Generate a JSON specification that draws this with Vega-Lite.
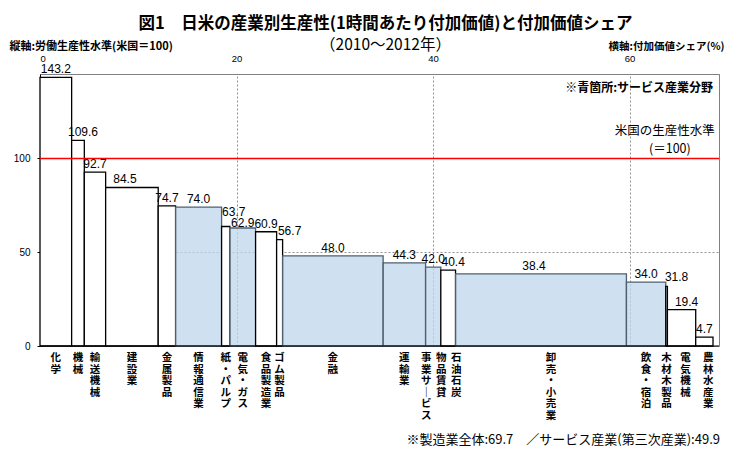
{
  "$schema": "https://vega.github.io/schema/vega-lite/v6.json",
  "width": 679,
  "height": 272,
  "autosize": {"type": "none"},
  "padding": {"left": 40, "top": 74, "right": 19, "bottom": 115},
  "background": "white",
  "config": {
    "view": {"stroke": "#808080", "strokeWidth": 1},
    "font": "Noto Sans CJK JP",
    "text": {"color": "black"}
  },
  "title": {
    "text": "図1　日米の産業別生産性(1時間あたり付加価値)と付加価値シェア",
    "subtitle": "（2010～2012年）",
    "anchor": "middle",
    "font": "Noto Sans CJK JP",
    "fontSize": 16.5,
    "fontWeight": "bold",
    "color": "black",
    "subtitleFont": "Noto Sans CJK JP",
    "subtitleFontSize": 15.5,
    "subtitleColor": "black",
    "subtitlePadding": 5,
    "offset": -13,
    "dx": 6
  },
  "data": {
    "values": [
      {"name": "化学", "share": 3.22, "prod": 143.2, "type": "その他"},
      {"name": "機械", "share": 1.29, "prod": 109.6, "type": "その他"},
      {"name": "輸送機械", "share": 2.17, "prod": 92.7, "type": "その他"},
      {"name": "建設業", "share": 5.35, "prod": 84.5, "type": "その他"},
      {"name": "金属製品", "share": 1.77, "prod": 74.7, "type": "その他"},
      {"name": "情報通信業", "share": 4.68, "prod": 74.0, "type": "サービス"},
      {"name": "紙・パルプ", "share": 0.85, "prod": 63.7, "type": "その他"},
      {"name": "電気・ガス", "share": 2.61, "prod": 62.9, "type": "サービス"},
      {"name": "食品製造業", "share": 2.14, "prod": 60.9, "type": "その他"},
      {"name": "ゴム製品", "share": 0.61, "prod": 56.7, "type": "その他"},
      {"name": "金融", "share": 10.23, "prod": 48.0, "type": "サービス"},
      {"name": "運輸業", "share": 4.32, "prod": 44.3, "type": "サービス"},
      {"name": "物品賃貸事業サービス", "share": 1.55, "prod": 42.0, "type": "サービス"},
      {"name": "石油石炭", "share": 1.50, "prod": 40.4, "type": "その他"},
      {"name": "卸売・小売業", "share": 17.39, "prod": 38.4, "type": "サービス"},
      {"name": "飲食・宿泊", "share": 4.00, "prod": 34.0, "type": "サービス"},
      {"name": "木材木製品", "share": 0.17, "prod": 31.8, "type": "その他"},
      {"name": "電気機械", "share": 2.88, "prod": 19.4, "type": "その他"},
      {"name": "農林水産業", "share": 1.76, "prod": 4.7, "type": "その他"}
    ]
  },
  "transform": [
    {"window": [{"op": "sum", "field": "share", "as": "x1"}], "frame": [null, 0]},
    {"calculate": "datum.x1 - datum.share", "as": "x0"},
    {"calculate": "datum.x1 - datum.share / 2", "as": "mid"},
    {"calculate": "join(split(datum.name, ''), '\\n')", "as": "vlabel"}
  ],
  "layer": [
    {
      "mark": {"type": "rect", "strokeWidth": 1.3},
      "encoding": {
        "x": {
          "field": "x0", "type": "quantitative",
          "scale": {"domain": [0, 69.1], "nice": false, "zero": false},
          "axis": {
            "orient": "top", "values": [0, 20, 40, 60], "ticks": false,
            "labelFont": "Liberation Sans", "labelFontSize": 9.5, "labelColor": "black", "labelPadding": 11,
            "domainColor": "#808080", "grid": true, "gridColor": "#909090", "gridDash": [2, 2], "gridWidth": 1,
            "title": "横軸:付加価値シェア(%)", "titleFont": "Noto Sans CJK JP", "titleFontSize": 10.5, "titleFontWeight": "bold",
            "titleColor": "black", "titleAlign": "right", "titleAnchor": null, "titleX": 684, "titleY": -28, "titleBaseline": "middle"
          }
        },
        "x2": {"field": "x1"},
        "y": {
          "field": "prod", "type": "quantitative",
          "scale": {"domain": [0, 145], "nice": false},
          "axis": {
            "values": [0, 50, 100], "tickSize": 3, "tickColor": "black", "domainColor": "black",
            "labelFont": "Liberation Sans", "labelFontSize": 10, "labelColor": "black", "labelPadding": 7,
            "grid": true, "gridColor": "#909090", "gridDash": [2, 2], "gridWidth": 1,
            "title": "縦軸:労働生産性水準(米国＝100)", "titleFont": "Noto Sans CJK JP", "titleFontSize": 11, "titleFontWeight": "bold",
            "titleColor": "black", "titleAngle": 0, "titleAlign": "left", "titleAnchor": null, "titleX": -31, "titleY": -28, "titleBaseline": "middle"
          }
        },
        "y2": {"datum": 0},
        "fill": {"condition": {"test": "datum.type === 'サービス'", "value": "#bfd6ec"}, "value": "#ffffff"},
        "fillOpacity": {"condition": {"test": "datum.type === 'サービス'", "value": 0.75}, "value": 1},
        "stroke": {"condition": {"test": "datum.type === 'サービス'", "value": "#4f5f70"}, "value": "#000000"}
      }
    },
    {
      "data": {"values": [{}]},
      "mark": {"type": "rule", "color": "#ff0000", "strokeWidth": 1.5},
      "encoding": {"y": {"datum": 100}}
    },
    {
      "data": {"values": [{}]},
      "mark": {"type": "rule", "color": "#000000", "strokeWidth": 1.2},
      "encoding": {"y": {"datum": 0}}
    },
    {
      "transform": [{"filter": {"not": {"field": "name", "oneOf": ["機械", "石油石炭", "電気機械", "紙・パルプ", "電気・ガス", "ゴム製品", "木材木製品", "建設業", "卸売・小売業"]}}}],
      "mark": {"type": "text", "baseline": "alphabetic", "dy": -4, "font": "Liberation Sans", "fontSize": 12},
      "encoding": {"x": {"field": "mid", "type": "quantitative"}, "y": {"field": "prod", "type": "quantitative"}, "text": {"field": "prod", "type": "quantitative", "format": ".1f"}}
    },
    {
      "transform": [{"filter": {"field": "name", "oneOf": ["機械", "石油石炭", "電気機械"]}}],
      "mark": {"type": "text", "baseline": "alphabetic", "dy": -4, "dx": 5, "font": "Liberation Sans", "fontSize": 12},
      "encoding": {"x": {"field": "mid", "type": "quantitative"}, "y": {"field": "prod", "type": "quantitative"}, "text": {"field": "prod", "type": "quantitative", "format": ".1f"}}
    },
    {
      "transform": [{"filter": {"field": "name", "oneOf": ["ゴム製品", "木材木製品"]}}],
      "mark": {"type": "text", "baseline": "alphabetic", "dy": -5, "dx": 10, "font": "Liberation Sans", "fontSize": 12},
      "encoding": {"x": {"field": "mid", "type": "quantitative"}, "y": {"field": "prod", "type": "quantitative"}, "text": {"field": "prod", "type": "quantitative", "format": ".1f"}}
    },
    {
      "transform": [{"filter": {"field": "name", "oneOf": ["紙・パルプ"]}}],
      "mark": {"type": "text", "baseline": "alphabetic", "dy": -11, "dx": 8, "font": "Liberation Sans", "fontSize": 12},
      "encoding": {"x": {"field": "mid", "type": "quantitative"}, "y": {"field": "prod", "type": "quantitative"}, "text": {"field": "prod", "type": "quantitative", "format": ".1f"}}
    },
    {
      "transform": [{"filter": {"field": "name", "oneOf": ["電気・ガス"]}}],
      "mark": {"type": "text", "baseline": "alphabetic", "dy": -1, "font": "Liberation Sans", "fontSize": 12},
      "encoding": {"x": {"field": "mid", "type": "quantitative"}, "y": {"field": "prod", "type": "quantitative"}, "text": {"field": "prod", "type": "quantitative", "format": ".1f"}}
    },
    {
      "transform": [{"filter": {"field": "name", "oneOf": ["建設業", "卸売・小売業"]}}],
      "mark": {"type": "text", "baseline": "alphabetic", "dy": -4, "dx": -7, "font": "Liberation Sans", "fontSize": 12},
      "encoding": {"x": {"field": "mid", "type": "quantitative"}, "y": {"field": "prod", "type": "quantitative"}, "text": {"field": "prod", "type": "quantitative", "format": ".1f"}}
    },
    {
      "transform": [{"filter": {"not": {"field": "name", "oneOf": ["物品賃貸事業サービス", "石油石炭", "卸売・小売業", "電気機械", "農林水産業"]}}}],
      "mark": {"type": "text", "baseline": "top", "dy": 7, "fontSize": 10.5, "fontWeight": "bold", "lineBreak": "\n", "lineHeight": 11.5},
      "encoding": {"x": {"field": "mid", "type": "quantitative"}, "y": {"datum": 0}, "text": {"field": "vlabel"}}
    },
    {
      "transform": [{"filter": {"field": "name", "oneOf": ["電気機械", "農林水産業"]}}],
      "mark": {"type": "text", "baseline": "top", "dy": 7, "dx": 4, "fontSize": 10.5, "fontWeight": "bold", "lineBreak": "\n", "lineHeight": 11.5},
      "encoding": {"x": {"field": "mid", "type": "quantitative"}, "y": {"datum": 0}, "text": {"field": "vlabel"}}
    },
    {
      "transform": [{"filter": {"field": "name", "oneOf": ["石油石炭"]}}],
      "mark": {"type": "text", "baseline": "top", "dy": 7, "dx": 8, "fontSize": 10.5, "fontWeight": "bold", "lineBreak": "\n", "lineHeight": 11.5},
      "encoding": {"x": {"field": "mid", "type": "quantitative"}, "y": {"datum": 0}, "text": {"field": "vlabel"}}
    },
    {
      "transform": [{"filter": {"field": "name", "oneOf": ["卸売・小売業"]}}],
      "mark": {"type": "text", "baseline": "top", "dy": 7, "dx": 10, "fontSize": 10.5, "fontWeight": "bold", "lineBreak": "\n", "lineHeight": 11.5},
      "encoding": {"x": {"field": "mid", "type": "quantitative"}, "y": {"datum": 0}, "text": {"field": "vlabel"}}
    },
    {
      "transform": [{"filter": {"field": "name", "oneOf": ["物品賃貸事業サービス"]}}],
      "mark": {"type": "text", "baseline": "top", "dy": 7, "dx": -7, "fontSize": 10.5, "fontWeight": "bold", "lineBreak": "\n", "lineHeight": 11.5},
      "encoding": {"x": {"field": "mid", "type": "quantitative"}, "y": {"datum": 0}, "text": {"value": "事\n業\nサ\n｜\nビ\nス"}}
    },
    {
      "transform": [{"filter": {"field": "name", "oneOf": ["物品賃貸事業サービス"]}}],
      "mark": {"type": "text", "baseline": "top", "dy": 7, "dx": 8, "fontSize": 10.5, "fontWeight": "bold", "lineBreak": "\n", "lineHeight": 11.5},
      "encoding": {"x": {"field": "mid", "type": "quantitative"}, "y": {"datum": 0}, "text": {"value": "物\n品\n賃\n貸"}}
    },
    {
      "data": {"values": [{}]},
      "mark": {"type": "text", "align": "right", "baseline": "middle", "fontSize": 12, "fontWeight": "bold"},
      "encoding": {"x": {"datum": 68.5}, "y": {"datum": 137.5}, "text": {"value": "※青箇所:サービス産業分野"}}
    },
    {
      "data": {"values": [{}]},
      "mark": {"type": "text", "align": "right", "baseline": "middle", "fontSize": 12.5},
      "encoding": {"x": {"datum": 68.67}, "y": {"datum": 114.6}, "text": {"value": "米国の生産性水準"}}
    },
    {
      "data": {"values": [{}]},
      "mark": {"type": "text", "align": "center", "baseline": "middle", "fontSize": 12.5},
      "encoding": {"x": {"datum": 64.1}, "y": {"datum": 105.0}, "text": {"value": "(＝100)"}}
    },
    {
      "data": {"values": [{}]},
      "mark": {"type": "text", "align": "right", "baseline": "middle", "fontSize": 13},
      "encoding": {"x": {"datum": 69.2}, "y": {"datum": -50.1}, "text": {"value": "※製造業全体:69.7　／サービス産業(第三次産業):49.9"}}
    }
  ]
}
